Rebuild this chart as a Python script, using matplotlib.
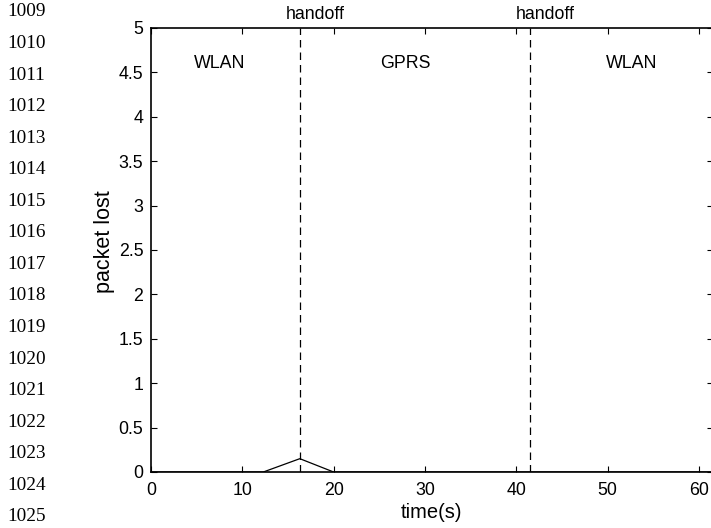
import matplotlib
matplotlib.use("Agg")
import matplotlib.pyplot as plt

# data
time_s = [0, 12.3, 16.3, 20.0, 61.5]
packet_lost = [0, 0, 0.15, 0, 0]
handoff_times = [16.3, 41.5]
regions = ["WLAN", "GPRS", "WLAN"]
region_x = [7.5, 27.9, 52.7]
xticks = [0, 10, 20, 30, 40, 50, 60]
yticks = [0, 0.5, 1, 1.5, 2, 2.5, 3, 3.5, 4, 4.5, 5]
line_numbers = list(range(1009, 1026))

W, H = 711, 528
fig = plt.figure(figsize=(W / 100, H / 100), dpi=100)
left, right, top, bottom = 151, 712.5, 28, 472
ax = fig.add_axes([left / W, 1 - bottom / H, (right - left) / W, (bottom - top) / H])

sans = ["Liberation Sans", "DejaVu Sans"]
fs = 12.8
ax.plot(time_s, packet_lost, color="black", lw=0.9)
for t in handoff_times:
    ax.axvline(t, color="black", lw=0.9, ls=(0, (6, 4)))
    ax.text(t + 1.7, 5.15, "handoff", ha="center", va="center", fontsize=fs, family=sans)
for name, x in zip(regions, region_x):
    ax.text(x, 4.6, name, ha="center", va="center", fontsize=fs, family=sans)

ax.set_xlim(0, 61.5)
ax.set_ylim(0, 5)
ax.set_xticks(xticks)
ax.set_yticks(yticks)
ax.set_xticklabels([str(v) for v in xticks], family=sans, fontsize=fs)
ax.set_yticklabels([("%g" % v) for v in yticks], family=sans, fontsize=fs)
ax.tick_params(direction="in", length=4, width=0.8, top=True, right=True)
ax.tick_params(axis="x", pad=7)
ax.tick_params(axis="y", pad=5.5)
for s in ax.spines.values():
    s.set_linewidth(1.2)
ax.set_xlabel("time(s)", family=sans, fontsize=14.5, labelpad=3)
ax.set_ylabel("packet lost", family=sans, fontsize=15.5, labelpad=4)
ax.yaxis.set_label_coords(-0.065, 0.518)

for i, n in enumerate(line_numbers):
    y = 12 + 31.55 * i
    fig.text(7 / W, 1 - y / H, str(n), ha="left", va="center", fontsize=13.9,
             family=["Liberation Serif", "DejaVu Serif"])

fig.savefig("out.png", dpi=100)
